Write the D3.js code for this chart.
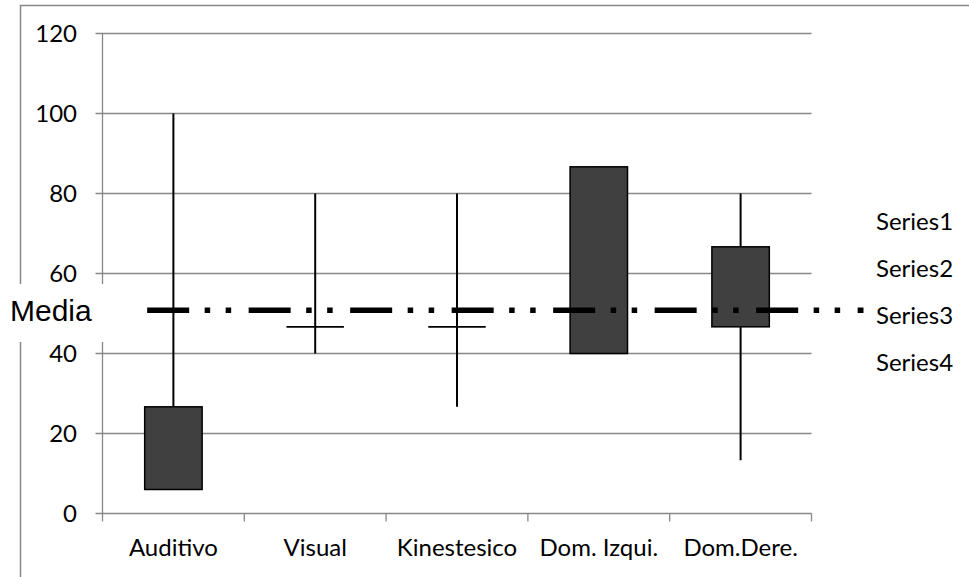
<!DOCTYPE html>
<html>

<head>
    <meta charset="UTF-8" />
    <title>Estilos de aprendizaje</title>
    <script src="https://d3js.org/d3.v7.min.js"></script>
    <style>
        body {
            margin: 0;
            background: white;
        }

        /* excel-ish labels */
        .chart text {
            font-family: Lato, "Open Sans", sans-serif;
            font-size: 24px;
            fill: black;
        }

        .grid line {
            stroke: #878787;
            stroke-width: 1.3px;
        }
    </style>
</head>

<body>
    <svg width=969 height=577 class="chart"></svg>

    <script>
        // values
        const categories = ["Auditivo", "Visual", "Kinestesico", "Dom. Izqui.", "Dom.Dere."];
        const highVals = [100, 80, 80, 86.67, 80];
        const openVals = [26.67, 46.67, 46.67, 86.67, 66.67];
        const closeVals = [6, 46.67, 46.67, 40, 46.67];
        const lowVals = [6, 40, 26.67, 40, 13.33];
        const yTicks = [0, 20, 40, 60, 80, 100, 120];
        const seriesNames = ["Series1", "Series2", "Series3", "Series4"];
        const mediaValue = 50.8;
        const mediaLabel = "Media";

        var svg = d3.select("svg");
        var plot = { left: 102.5, right: 811.5, top: 33.5, bottom: 513.5 };

        var xScale = d3.scaleBand().domain(categories).range([plot.left, plot.right]);
        var yScale = d3.scaleLinear().domain([0, 120]).range([plot.bottom, plot.top]);
        var boxW = xScale.bandwidth() * 0.405;

        // outer chart border
        svg.append("rect")
            .attr("x", 20.5).attr("y", 5.5)
            .attr("width", 960).attr("height", 600)
            .attr("fill", "none")
            .attr("stroke", "#878787")
            .attr("stroke-width", 1.5);

        // gridlines + y ticks
        var grid = svg.append("g").attr("class", "grid");
        grid.selectAll("line").data(yTicks).enter().append("line")
            .attr("x1", plot.left - 7).attr("x2", plot.right)
            .attr("y1", d => yScale(d)).attr("y2", d => yScale(d));

        svg.append("g").selectAll("text").data(yTicks).enter().append("text")
            .attr("x", 77)
            .attr("y", d => yScale(d))
            .attr("dy", "0.35em")
            .attr("text-anchor", "end")
            .text(d => d);

        // y axis line
        svg.append("line")
            .attr("x1", plot.left).attr("x2", plot.left)
            .attr("y1", plot.top).attr("y2", plot.bottom)
            .attr("stroke", "#878787").attr("stroke-width", 1.3);

        // x axis ticks between categories
        var bounds = categories.map(c => xScale(c)).concat([plot.right]);
        svg.append("g").selectAll("line").data(bounds).enter().append("line")
            .attr("x1", d => d).attr("x2", d => d)
            .attr("y1", plot.bottom).attr("y2", plot.bottom + 8)
            .attr("stroke", "#878787").attr("stroke-width", 1.3);

        svg.append("g").selectAll("text").data(categories).enter().append("text")
            .attr("x", d => xScale(d) + xScale.bandwidth() / 2)
            .attr("y", 556)
            .attr("text-anchor", "middle")
            .text(d => d);

        // high-low lines
        var stock = categories.map((c, i) => ({ cat: c, high: highVals[i], low: lowVals[i], open: openVals[i], close: closeVals[i] }));

        svg.append("g").selectAll("line").data(stock).enter().append("line")
            .attr("x1", d => xScale(d.cat) + xScale.bandwidth() / 2)
            .attr("x2", d => xScale(d.cat) + xScale.bandwidth() / 2)
            .attr("y1", d => yScale(d.high))
            .attr("y2", d => yScale(d.low))
            .attr("stroke", "black")
            .attr("stroke-width", 2);

        // up/down bars (open == close just gives a flat line)
        svg.append("g").selectAll("rect").data(stock.filter(d => d.open != d.close)).enter().append("rect")
            .attr("x", d => xScale(d.cat) + xScale.bandwidth() / 2 - boxW / 2)
            .attr("y", d => yScale(Math.max(d.open, d.close)))
            .attr("width", boxW)
            .attr("height", d => Math.abs(yScale(d.open) - yScale(d.close)))
            .attr("fill", "#404040")
            .attr("stroke", "black")
            .attr("stroke-width", 1.5);

        svg.append("g").selectAll("line").data(stock.filter(d => d.open == d.close)).enter().append("line")
            .attr("x1", d => xScale(d.cat) + xScale.bandwidth() / 2 - boxW / 2)
            .attr("x2", d => xScale(d.cat) + xScale.bandwidth() / 2 + boxW / 2)
            .attr("y1", d => yScale(d.open))
            .attr("y2", d => yScale(d.open))
            .attr("stroke", "black")
            .attr("stroke-width", 1.8);

        // legend (no visible markers)
        svg.append("g").selectAll("text").data(seriesNames).enter().append("text")
            .attr("x", 876)
            .attr("y", (d, i) => 222 + i * 47)
            .attr("dy", "0.35em")
            .text(d => d);

        // "Media" label with white box over the border
        svg.append("rect")
            .attr("x", 0).attr("y", 284)
            .attr("width", 108).attr("height", 58)
            .attr("fill", "white");

        svg.append("text")
            .attr("x", 10)
            .attr("y", yScale(mediaValue))
            .attr("dy", "0.36em")
            .style("font-family", "'Liberation Sans', Arial, sans-serif")
            .style("font-size", "30px")
            .text(mediaLabel);

        // dash-dot-dot mean line, drawn on top
        svg.append("line")
            .attr("x1", xScale(categories[0]) + xScale.bandwidth() * 0.315)
            .attr("x2", plot.right + 52)
            .attr("y1", yScale(mediaValue))
            .attr("y2", yScale(mediaValue))
            .attr("stroke", "black")
            .attr("stroke-width", 5.5)
            .attr("stroke-dasharray", "42,15.5,5.5,15.5,5.5,17.5");
    </script>


</body>

</html>
